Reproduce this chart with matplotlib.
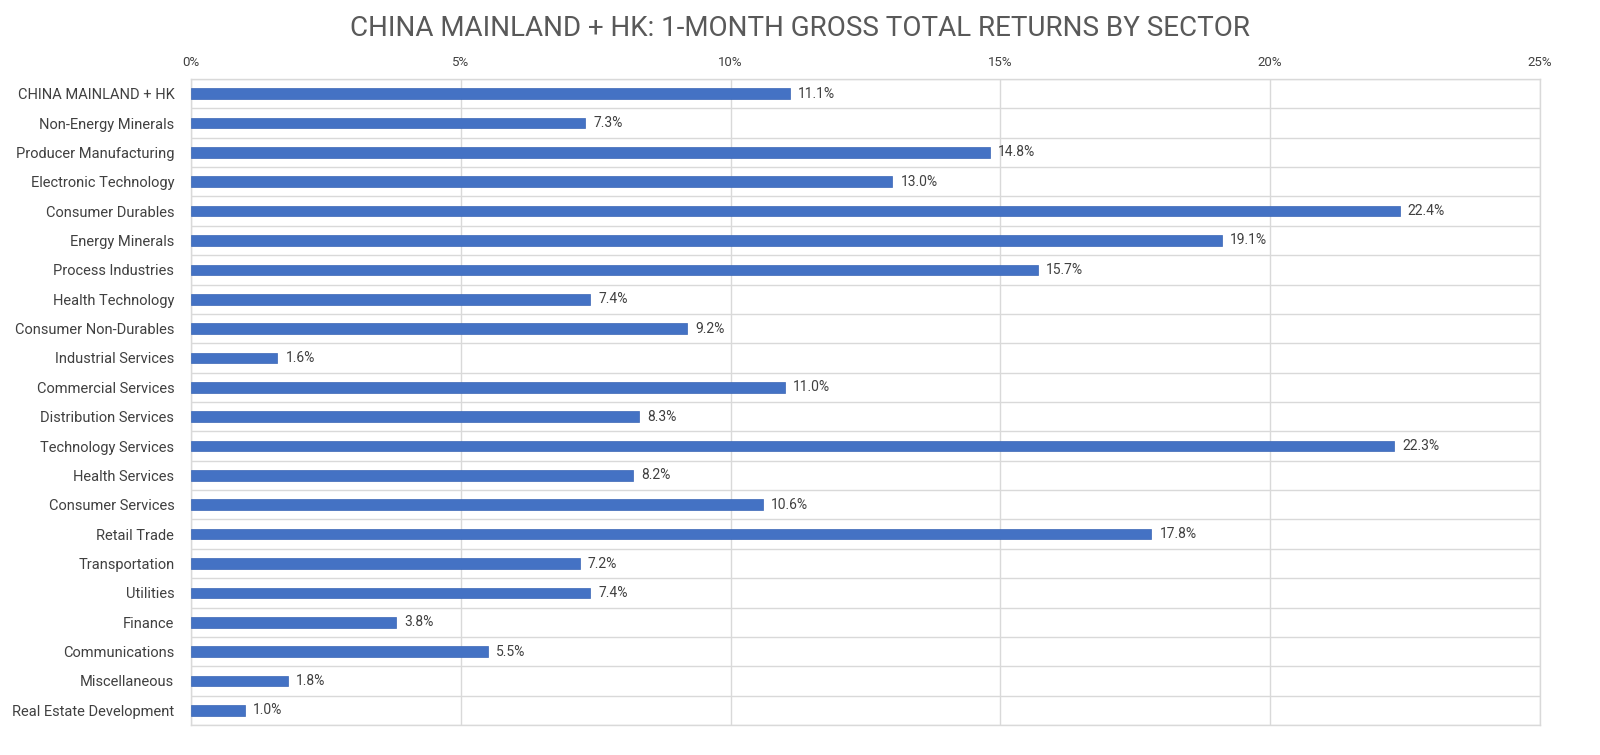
import matplotlib
matplotlib.use("Agg")
import matplotlib.pyplot as plt
import numpy as np
from matplotlib.ticker import FuncFormatter, FixedLocator

plt.rcParams["font.family"] = ["Roboto", "DejaVu Sans"]

sectors = [
    "CHINA MAINLAND + HK", "Non-Energy Minerals", "Producer Manufacturing",
    "Electronic Technology", "Consumer Durables", "Energy Minerals",
    "Process Industries", "Health Technology", "Consumer Non-Durables",
    "Industrial Services", "Commercial Services", "Distribution Services",
    "Technology Services", "Health Services", "Consumer Services",
    "Retail Trade", "Transportation", "Utilities", "Finance",
    "Communications", "Miscellaneous", "Real Estate Development",
]
returns = [11.1, 7.3, 14.8, 13.0, 22.4, 19.1, 15.7, 7.4, 9.2, 1.6, 11.0,
           8.3, 22.3, 8.2, 10.6, 17.8, 7.2, 7.4, 3.8, 5.5, 1.8, 1.0]
x_ticks = [0, 5, 10, 15, 20, 25]

BAR = "#4472C4"
GRID = "#D9D9D9"
TXT = "#404040"

fig = plt.figure(figsize=(16, 7.55), dpi=100)
ax = fig.add_axes([191 / 1600, 1 - 725 / 755, (1540 - 191) / 1600, (725 - 79) / 755])

y = np.arange(len(sectors))
ax.barh(y, returns, height=0.36, color=BAR, edgecolor="#3A66B5", linewidth=0.5, zorder=3)
for yi, v in zip(y, returns):
    ax.text(v + 0.15, yi, f"{v:.1f}%", va="center", ha="left", fontsize=10, color=TXT)

ax.set_xlim(0, 25)
ax.set_ylim(len(sectors) - 0.5, -0.5)
ax.set_yticks(y)
ax.set_yticklabels(sectors, fontsize=10.5, color=TXT)
ax.yaxis.set_minor_locator(FixedLocator(np.arange(-0.5, len(sectors), 1)))
ax.grid(which="minor", axis="y", color=GRID, linewidth=1.0, zorder=0)
ax.xaxis.set_major_locator(FixedLocator(x_ticks))
ax.xaxis.set_major_formatter(FuncFormatter(lambda v, p: f"{v:.0f}%"))
ax.xaxis.tick_top()
ax.tick_params(axis="x", labelsize=9.5, labelcolor=TXT, length=0, pad=7)
ax.tick_params(axis="y", which="both", length=0, pad=12)
ax.grid(which="major", axis="x", color=GRID, linewidth=1.0, zorder=0)
for s in ax.spines.values():
    s.set_color(GRID)
    s.set_linewidth(1.0)

fig.suptitle("CHINA MAINLAND + HK: 1-MONTH GROSS TOTAL RETURNS BY SECTOR",
             y=0.98, va="top", fontsize=20, color="#595959")

fig.savefig("out.png", dpi=100)
